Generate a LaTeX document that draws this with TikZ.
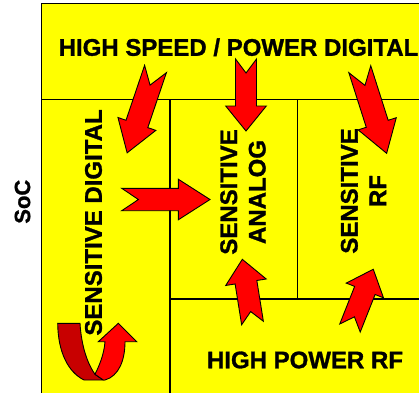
\documentclass[tikz,border=0pt]{standalone}
\usepackage{fontspec}
\setmainfont{Liberation Sans}[BoldFeatures={FakeBold=1.2}]
\definecolor{bgyellow}{RGB}{255,255,0}
\definecolor{arrred}{RGB}{255,0,0}
\definecolor{arrdark}{RGB}{200,0,0}
\newcommand\notcharrow[8]{%
  \begin{scope}[shift={(#1,#2)}, rotate=#3]
    \draw[blockarrow] (0,#5) -- ({#4-#7},#5) -- ({#4-#7},#6) -- (#4,0)
      -- ({#4-#7},-#6) -- ({#4-#7},-#5) -- (0,-#5) -- (#8,0) -- cycle;
  \end{scope}}
\begin{document}
\begin{tikzpicture}[x=1pt, y=-1pt,
  blockarrow/.style={fill=arrred, draw=black, line width=0.9pt, line join=miter},
  darkband/.style={fill=arrdark, draw=black, line width=0.9pt},
  frameline/.style={draw=black, line width=1.2pt},
  bigtext/.style={font=\fontsize{24}{28.5}\selectfont\bfseries, inner sep=0pt, align=center}]
\useasboundingbox (0,0) rectangle (419,392);
\clip (0,0) rectangle (419,392);
\fill[white] (0,0) rectangle (419,392);
% frame
\filldraw[fill=bgyellow, frameline] (41.5,3.5) rectangle (440,410);
\draw[frameline] (41.5,99.3) -- (440,99.3);
\draw[frameline] (170,99.3) -- (170,410);
\draw[frameline] (297.3,99.3) -- (297.3,299);
\draw[frameline] (170,299) -- (440,299);
% texts
\node[bigtext, font=\fontsize{22}{26}\selectfont\bfseries, rotate=90] (soc) at (22.5,201.7) {SoC};
\node[bigtext] (hspd) at (238.5,47.3) {HIGH SPEED / POWER DIGITAL};
\node[bigtext] (hprf) at (305,360) {HIGH POWER RF};
\node[bigtext, rotate=90] (sdig) at (93.5,222.5) {SENSITIVE DIGITAL};
\node[bigtext, rotate=90] (sana) at (243,192) {SENSITIVE\\ANALOG};
\node[bigtext, rotate=90] (srf) at (363.5,191) {SENSITIVE\\RF};
% block arrows
\notcharrow{155.5}{69}{-108.7}{88.5}{11.5}{20}{30.5}{17}
\notcharrow{246}{59}{-90}{72}{10.5}{20.3}{25}{14}
\notcharrow{359.8}{69.2}{-72.3}{88.3}{11.5}{20}{31}{17}
\notcharrow{121.7}{199.5}{0}{88.3}{11.2}{20.3}{31.7}{16.7}
\notcharrow{252.5}{323}{99.1}{64.5}{11}{20.5}{23.2}{11.6}
\notcharrow{350}{328}{68.4}{63.2}{11}{20}{22.8}{12}
% U-turn arrow
\draw[darkband] (57.7,323.3) -- (80,323.3) .. controls (81,340) and (85,360) .. (95,374.3)
  -- (103.3,380) -- (84,380) .. controls (68,372) and (58,352) .. cycle;
\draw[blockarrow] (95,374.3) .. controls (99,366) and (104,355) .. (105,341.7)
  -- (98.3,341.7) -- (118.3,323.3) -- (136.7,341.7) -- (125,341.7)
  .. controls (125,360) and (119,376) .. (105,380) -- (103.3,380) -- cycle;
\end{tikzpicture}
\end{document}
